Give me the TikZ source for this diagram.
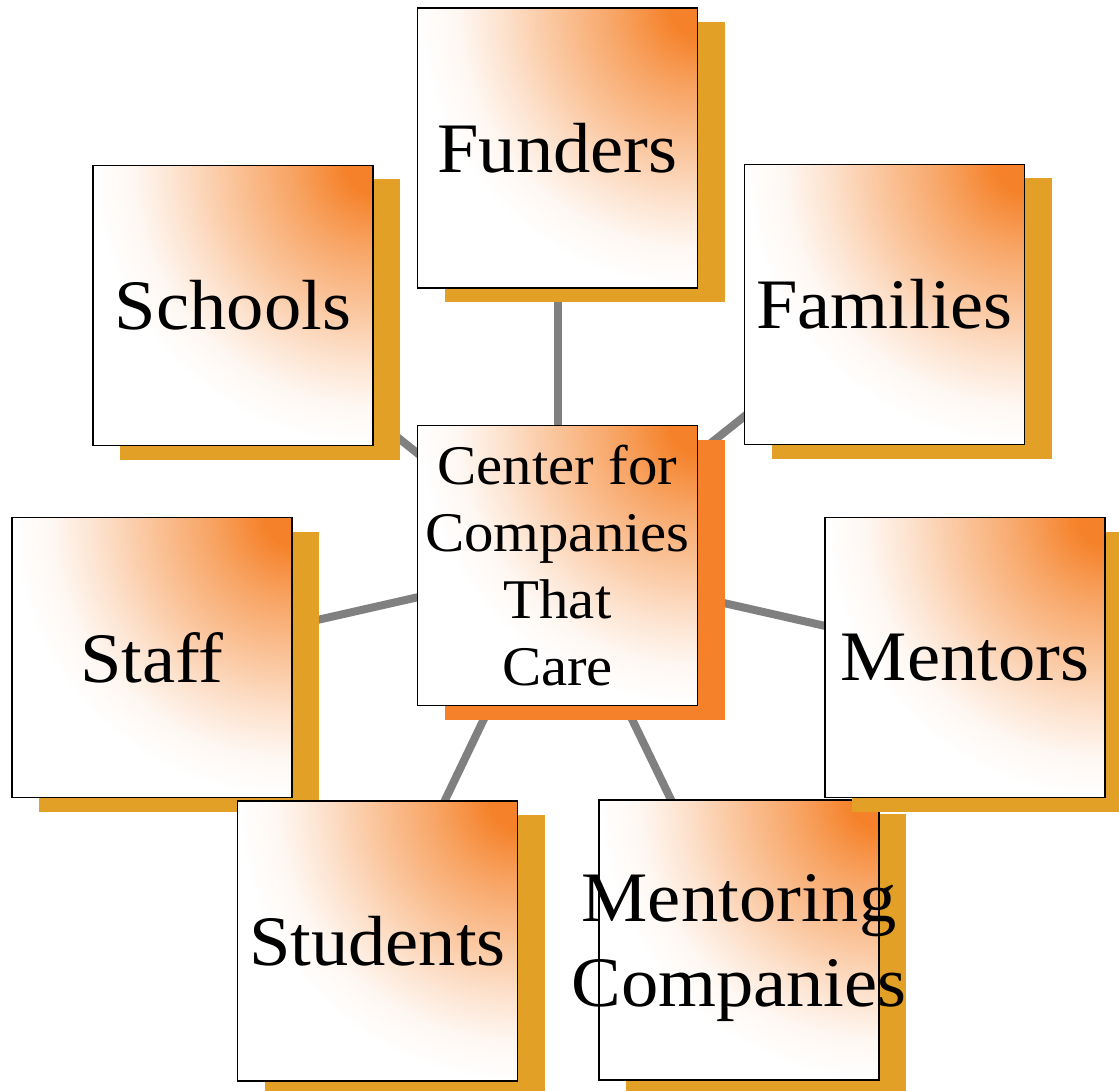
\documentclass[tikz,border=0pt]{standalone}
\usepackage{fontspec}
\setmainfont{Liberation Serif}[FakeStretch=1.05]
\usetikzlibrary{shadows,backgrounds}

\definecolor{hot}{HTML}{F5822A}
\definecolor{gold}{HTML}{E2A026}
\definecolor{spoke}{HTML}{808080}

% orange glow spreading out from a corner and fading to white
\pgfdeclareradialshading{cornerglow}{\pgfpoint{0bp}{0bp}}{%
  color(0bp)=(hot); color(2.5bp)=(hot); color(7.5bp)=(hot!72!white);
  color(12.5bp)=(hot!48!white); color(17.5bp)=(hot!23!white);
  color(21.5bp)=(hot!6!white); color(25bp)=(white); color(50bp)=(white)}

\tikzset{
  cardbase/.style={draw=black, line width=1.6pt, fill=white,
    path picture={\shade[shading=cornerglow]
      (path picture bounding box.north east) circle (280pt);},
    minimum width=280pt, minimum height=280pt, inner sep=0pt, align=center},
  card/.style={cardbase, font=\fontsize{71}{85}\selectfont,
    general shadow={fill=gold, shadow xshift=27pt, shadow yshift=-14pt}},
  hubcard/.style={cardbase, font=\fontsize{56}{67}\selectfont,
    general shadow={fill=hot, shadow xshift=27pt, shadow yshift=-14pt}},
  cardtext/.style={font=\fontsize{71}{85}\selectfont, align=center, inner sep=0pt},
  spokeline/.style={draw=spoke, line width=8pt}
}

\begin{document}
\begin{tikzpicture}[x=1pt, y=-1pt]
  \useasboundingbox (0,0) rectangle (1119,1091);

  \node[card] (funders)  at (557.5,148)   {Funders};
  \node[card] (schools)  at (233,305.5)   {Schools};
  \node[card] (families) at (884.5,304.5) {Families};
  \node[hubcard] (hub)   at (557.5,565.5) {Center for\\Companies\\That\\Care};
  \node[card] (staff)    at (152,657.5)   {Staff};
  \node[card] (students) at (377.5,941)   {\makebox[0pt]{Students}};
  \node[card] (mentco)   at (739,940)     {};
  \node[cardtext] (mentcotext) at ([yshift=-8pt]mentco.center)
    {\makebox[0pt]{Mentoring}\\\makebox[0pt]{Companies}};
  \node[card] (mentors)  at (965,657.5)   {Mentors};

  % spokes from the hub to every partner, under all boxes
  \begin{scope}[on background layer]
    \foreach \n in {funders,schools,families,staff,students,mentco,mentors}
      \draw[spokeline] (hub.center) -- (\n.center);
  \end{scope}
\end{tikzpicture}
\end{document}
